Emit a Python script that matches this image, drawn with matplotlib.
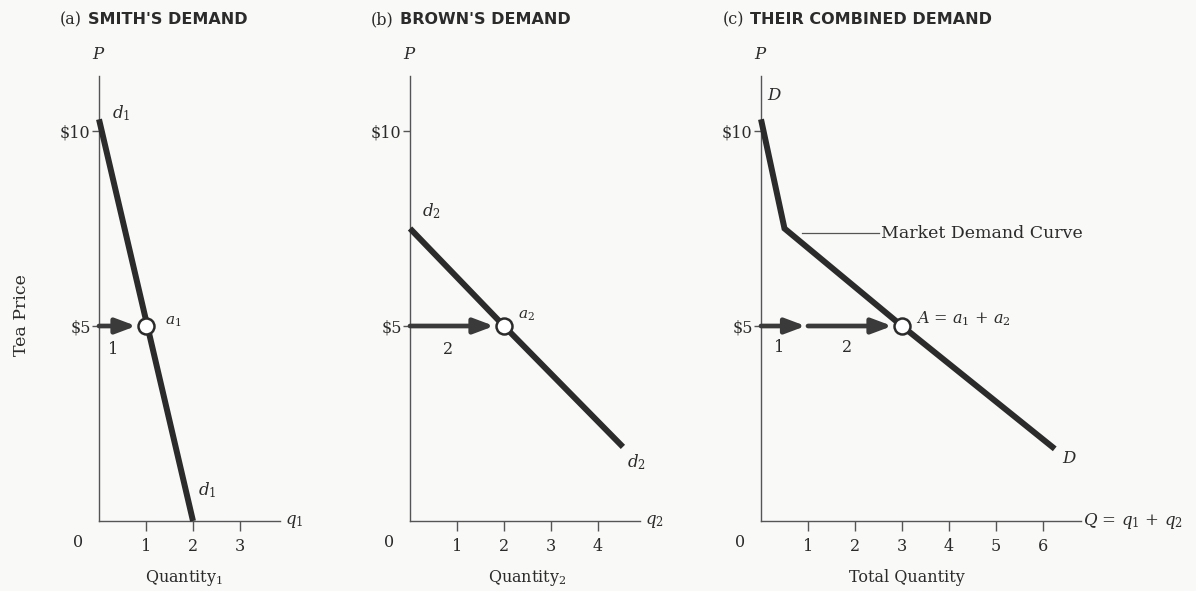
import matplotlib
matplotlib.use("Agg")
import matplotlib.pyplot as plt

# ---------------- data ----------------
smith_q = [0, 2]
smith_p = [10.3, 0]
brown_q = [0, 2, 4.53]
brown_p = [7.5, 5, 1.9]
market_q = [0, 0.5, 3, 6.25]
market_p = [10.3, 7.5, 5, 1.85]

price_ticks = [5, 10]
price_labels = ["$5", "$10"]
qa_ticks = [1, 2, 3]
qb_ticks = [1, 2, 3, 4]
qc_ticks = [1, 2, 3, 4, 5, 6]

market_price = 5
smith_qty = 1
brown_qty = 2
total_qty = 3

# ---------------- style ----------------
W, H = 1196, 591
PX_Q, PX_P, Y0 = 47.0, 39.0, 521.0
INK = "#2b2b2b"
SERIF = "DejaVu Serif"
plt.rcParams["font.family"] = SERIF
plt.rcParams["mathtext.fontset"] = "custom"
plt.rcParams["mathtext.it"] = "DejaVu Serif:italic"
plt.rcParams["mathtext.rm"] = "DejaVu Serif"

fig = plt.figure(figsize=(W / 100, H / 100), dpi=100)
fig.patch.set_facecolor("#f9f9f8")


def fx(px):
    return px / W


def fy(py):
    return 1 - py / H


def make_ax(x0, qmax, pmax, qticks):
    ax = fig.add_axes([fx(x0), fy(Y0), qmax * PX_Q / W, pmax * PX_P / H])
    ax.set_xlim(0, qmax)
    ax.set_ylim(0, pmax)
    ax.patch.set_visible(False)
    for s in ("top", "right"):
        ax.spines[s].set_visible(False)
    for s in ("left", "bottom"):
        ax.spines[s].set_color("#555555")
        ax.spines[s].set_linewidth(1.0)
    ax.set_xticks(qticks)
    ax.set_xticklabels([str(t) for t in qticks])
    ax.set_yticks(price_ticks)
    ax.set_yticklabels(price_labels)
    ax.tick_params(axis="x", direction="out", length=7, width=1, color="#555555",
                   pad=5, labelsize=11.5, labelcolor=INK)
    ax.tick_params(axis="y", direction="out", length=5, width=1, color="#555555",
                   pad=1, labelsize=11.5, labelcolor=INK)
    ax.text(-0.45, -0.55, "0", ha="center", va="center", fontsize=11.5,
            color=INK, transform=ax.transData, clip_on=False)
    ax.text(0, pmax + 0.35, "$P$", ha="center", va="bottom", fontsize=12,
            color=INK, clip_on=False)
    return ax


def demand(ax, q, p):
    ax.plot(q, p, color=INK, lw=4.3, solid_capstyle="butt", solid_joinstyle="miter",
            clip_on=False, zorder=3)


def arrow(ax, q0, q1, p):
    ax.annotate("", xy=(q1, p), xytext=(q0, p),
                arrowprops=dict(arrowstyle="-|>,head_length=0.8,head_width=0.3",
                                mutation_scale=15, lw=3.4, color="#3a3a3a",
                                shrinkA=0, shrinkB=0),
                zorder=4, annotation_clip=False)


def point(ax, q, p):
    ax.plot([q], [p], "o", ms=11.5, mfc="white", mec=INK, mew=1.8, zorder=5,
            clip_on=False)


# ---------------- panel (a) ----------------
axa = make_ax(99, 3.85, 11.4, qa_ticks)
demand(axa, smith_q, smith_p)
arrow(axa, 0, smith_qty - 0.21, market_price)
point(axa, smith_qty, market_price)
axa.text(0.27, 10.45, "$d_1$", fontsize=12, color=INK, ha="left", va="center")
axa.text(2.1, 0.8, "$d_1$", fontsize=12, color=INK, ha="left", va="center")
axa.text(1.4, 5.1, "$a_1$", fontsize=11, color=INK, ha="left", va="center")
axa.text(0.3, 4.4, "1", fontsize=11.5, color=INK, ha="center", va="center")
axa.text(3.95, 0, "$q_1$", fontsize=12, color=INK, ha="left", va="center", clip_on=False)
axa.text(1.8, -1.45, "Quantity$_1$", fontsize=11.5, color=INK, ha="center", va="center")

# ---------------- panel (b) ----------------
axb = make_ax(410, 4.9, 11.4, qb_ticks)
demand(axb, brown_q, brown_p)
arrow(axb, 0, brown_qty - 0.21, market_price)
point(axb, brown_qty, market_price)
axb.text(0.25, 7.95, "$d_2$", fontsize=12, color=INK, ha="left", va="center")
axb.text(4.62, 1.5, "$d_2$", fontsize=12, color=INK, ha="left", va="center")
axb.text(2.3, 5.25, "$a_2$", fontsize=11, color=INK, ha="left", va="center")
axb.text(0.8, 4.4, "2", fontsize=11.5, color=INK, ha="center", va="center")
axb.text(5.0, 0, "$q_2$", fontsize=12, color=INK, ha="left", va="center", clip_on=False)
axb.text(2.5, -1.45, "Quantity$_2$", fontsize=11.5, color=INK, ha="center", va="center")

# ---------------- panel (c) ----------------
axc = make_ax(761, 6.8, 11.4, qc_ticks)
demand(axc, market_q, market_p)
arrow(axc, 0, smith_qty - 0.05, market_price)
arrow(axc, smith_qty, total_qty - 0.21, market_price)
point(axc, total_qty, market_price)
axc.text(0.12, 10.9, "$D$", fontsize=12, color=INK, ha="left", va="center")
axc.text(6.4, 1.6, "$D$", fontsize=12, color=INK, ha="left", va="center")
axc.text(3.3, 5.2, "$A$ = $a_1$ + $a_2$", fontsize=11.5, color=INK, ha="left", va="center")
axc.text(0.38, 4.45, "1", fontsize=11.5, color=INK, ha="center", va="center")
axc.text(1.83, 4.45, "2", fontsize=11.5, color=INK, ha="center", va="center")
axc.plot([0.88, 2.5], [7.38, 7.38], color="#555555", lw=0.9, zorder=2)
axc.text(2.56, 7.38, "Market Demand Curve", fontsize=12.5, color=INK, ha="left", va="center")
axc.text(6.85, 0, "$Q$ = $q_1$ + $q_2$", fontsize=12, color=INK, ha="left", va="center",
         clip_on=False)
axc.text(3.1, -1.45, "Total Quantity", fontsize=11.5, color=INK, ha="center", va="center")

# ---------------- titles & shared label ----------------
def title(x, tag, name):
    t = fig.text(fx(x), fy(20), tag, fontsize=11.5, color=INK, ha="left", va="center",
                 family=SERIF)
    fig.canvas.draw()
    bb = t.get_window_extent()
    fig.text(bb.x1 / W + fx(6), fy(20), name, fontsize=11.5, color=INK, ha="left",
             va="center", family="DejaVu Sans", weight="bold")


title(60, "(a)", "SMITH'S DEMAND")
title(371, "(b)", "BROWN'S DEMAND")
title(723, "(c)", "THEIR COMBINED DEMAND")

fig.text(fx(22), fy(315), "Tea Price", rotation=90, fontsize=12.5, color=INK,
         ha="center", va="center")

fig.savefig("out.png", dpi=100, facecolor=fig.get_facecolor())
